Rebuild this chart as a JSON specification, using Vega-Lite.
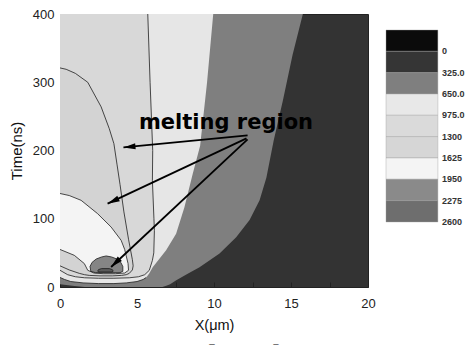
{
  "$schema": "https://vega.github.io/schema/vega-lite/v6.json",
  "background": "white",
  "padding": {"left": 8, "top": 7, "right": 0, "bottom": 0},
  "spacing": 9,
  "title": {"text": "Temperature distribution as a function of time", "orient": "bottom", "anchor": "start", "frame": "bounds", "font": "Liberation Serif", "fontSize": 36, "fontWeight": "normal", "color": "black", "offset": 10},
  "datasets": {
    "regions": [
      {"r": "A", "t": 0, "x": 1.6, "x2": 6.65},
      {"r": "A", "t": 2, "x": 0.8, "x2": 6.9},
      {"r": "A", "t": 4, "x": 0, "x2": 7.15},
      {"r": "A", "t": 10, "x": 0, "x2": 7.55},
      {"r": "A", "t": 20, "x": 0, "x2": 8.35},
      {"r": "A", "t": 29, "x": 0, "x2": 9.06},
      {"r": "A", "t": 49, "x": 0, "x2": 10.36},
      {"r": "A", "t": 73, "x": 0, "x2": 11.44},
      {"r": "A", "t": 98, "x": 0, "x2": 12.31},
      {"r": "A", "t": 127, "x": 0, "x2": 12.96},
      {"r": "A", "t": 160, "x": 0, "x2": 13.4},
      {"r": "A", "t": 215, "x": 0, "x2": 13.88},
      {"r": "A", "t": 273, "x": 0, "x2": 14.47},
      {"r": "A", "t": 340, "x": 0, "x2": 15.1},
      {"r": "A", "t": 400, "x": 0, "x2": 15.77},
      {"r": "B", "t": 5, "x": 2.5, "x2": 3.5},
      {"r": "B", "t": 6, "x": 1.5, "x2": 4.3},
      {"r": "B", "t": 8, "x": 0.7, "x2": 5.0},
      {"r": "B", "t": 11, "x": 0.3, "x2": 5.4},
      {"r": "B", "t": 14, "x": 0, "x2": 5.6},
      {"r": "B", "t": 20, "x": 0, "x2": 5.8},
      {"r": "B", "t": 29, "x": 0, "x2": 6.02},
      {"r": "B", "t": 54, "x": 0, "x2": 6.89},
      {"r": "B", "t": 78, "x": 0, "x2": 7.54},
      {"r": "B", "t": 117, "x": 0, "x2": 8.08},
      {"r": "B", "t": 166, "x": 0, "x2": 8.62},
      {"r": "B", "t": 207, "x": 0, "x2": 9.1},
      {"r": "B", "t": 300, "x": 0, "x2": 9.55},
      {"r": "B", "t": 400, "x": 0, "x2": 9.95},
      {"r": "C", "t": 12.8, "x": 2.5, "x2": 3.5},
      {"r": "C", "t": 13.5, "x": 1.6, "x2": 4.5},
      {"r": "C", "t": 15, "x": 1.0, "x2": 5.1},
      {"r": "C", "t": 18, "x": 0.5, "x2": 5.5},
      {"r": "C", "t": 24.5, "x": 0, "x2": 5.8},
      {"r": "C", "t": 39, "x": 0, "x2": 6.0},
      {"r": "C", "t": 50, "x": 0, "x2": 6.09},
      {"r": "C", "t": 83, "x": 0, "x2": 6.13},
      {"r": "C", "t": 100, "x": 0, "x2": 6.1},
      {"r": "C", "t": 156, "x": 0, "x2": 6.0},
      {"r": "C", "t": 200, "x": 0, "x2": 6.02},
      {"r": "C", "t": 300, "x": 0, "x2": 5.85},
      {"r": "C", "t": 400, "x": 0, "x2": 5.7},
      {"r": "D", "t": 16.3, "x": 2.6, "x2": 3.4},
      {"r": "D", "t": 17, "x": 1.9, "x2": 4.0},
      {"r": "D", "t": 18, "x": 1.6, "x2": 4.3},
      {"r": "D", "t": 20, "x": 1.25, "x2": 4.5},
      {"r": "D", "t": 25, "x": 0.6, "x2": 4.7},
      {"r": "D", "t": 31, "x": 0, "x2": 4.75},
      {"r": "D", "t": 40, "x": 0, "x2": 4.7},
      {"r": "D", "t": 70, "x": 0, "x2": 4.45},
      {"r": "D", "t": 110, "x": 0, "x2": 4.15},
      {"r": "D", "t": 150, "x": 0, "x2": 3.9},
      {"r": "D", "t": 180, "x": 0, "x2": 3.7},
      {"r": "D", "t": 210, "x": 0, "x2": 3.5},
      {"r": "D", "t": 232, "x": 0, "x2": 3.2},
      {"r": "D", "t": 264, "x": 0, "x2": 2.67},
      {"r": "D", "t": 300, "x": 0, "x2": 1.8},
      {"r": "D", "t": 313, "x": 0, "x2": 1.0},
      {"r": "D", "t": 319, "x": 0, "x2": 0.4},
      {"r": "D", "t": 321, "x": 0, "x2": 0},
      {"r": "E", "t": 19.5, "x": 2.8, "x2": 3.6},
      {"r": "E", "t": 20.5, "x": 2.2, "x2": 4.2},
      {"r": "E", "t": 24.5, "x": 1.8, "x2": 4.45},
      {"r": "E", "t": 34.3, "x": 1.58, "x2": 4.42},
      {"r": "E", "t": 46.4, "x": 0.93, "x2": 4.29},
      {"r": "E", "t": 55, "x": 0, "x2": 4.2},
      {"r": "E", "t": 68.4, "x": 0, "x2": 3.97},
      {"r": "E", "t": 87.8, "x": 0, "x2": 3.32},
      {"r": "E", "t": 107.5, "x": 0, "x2": 2.44},
      {"r": "E", "t": 127, "x": 0, "x2": 1.37},
      {"r": "E", "t": 134, "x": 0, "x2": 0.6},
      {"r": "E", "t": 137, "x": 0, "x2": 0},
      {"r": "F", "t": 21, "x": 2.3, "x2": 3.9},
      {"r": "F", "t": 23, "x": 2.0, "x2": 4.08},
      {"r": "F", "t": 30, "x": 1.95, "x2": 4.08},
      {"r": "F", "t": 36, "x": 2.08, "x2": 3.95},
      {"r": "F", "t": 41, "x": 2.35, "x2": 3.7},
      {"r": "F", "t": 44, "x": 2.7, "x2": 3.35},
      {"r": "F", "t": 45.5, "x": 3.0, "x2": 3.05},
      {"r": "G", "t": 22, "x": 2.5, "x2": 3.4},
      {"r": "G", "t": 23.5, "x": 2.45, "x2": 3.45},
      {"r": "G", "t": 25.5, "x": 2.5, "x2": 3.4},
      {"r": "G", "t": 27, "x": 2.7, "x2": 3.2}
    ],
    "lines": [
      {"id": "C", "i": 0, "x": 0, "t": 24.5}, {"id": "C", "i": 1, "x": 0.5, "t": 18}, {"id": "C", "i": 2, "x": 1.0, "t": 15}, {"id": "C", "i": 3, "x": 1.6, "t": 13.5}, {"id": "C", "i": 4, "x": 2.5, "t": 12.8}, {"id": "C", "i": 5, "x": 3.5, "t": 12.8}, {"id": "C", "i": 6, "x": 4.5, "t": 13.5}, {"id": "C", "i": 7, "x": 5.1, "t": 15}, {"id": "C", "i": 8, "x": 5.5, "t": 18}, {"id": "C", "i": 9, "x": 5.8, "t": 24.5}, {"id": "C", "i": 10, "x": 6.0, "t": 39}, {"id": "C", "i": 11, "x": 6.09, "t": 50}, {"id": "C", "i": 12, "x": 6.13, "t": 83}, {"id": "C", "i": 13, "x": 6.1, "t": 100}, {"id": "C", "i": 14, "x": 6.0, "t": 156}, {"id": "C", "i": 15, "x": 6.02, "t": 200}, {"id": "C", "i": 16, "x": 5.85, "t": 300}, {"id": "C", "i": 17, "x": 5.7, "t": 400},
      {"id": "D", "i": 0, "x": 0, "t": 31}, {"id": "D", "i": 1, "x": 0.6, "t": 25}, {"id": "D", "i": 2, "x": 1.25, "t": 20}, {"id": "D", "i": 3, "x": 1.6, "t": 18}, {"id": "D", "i": 4, "x": 1.9, "t": 17}, {"id": "D", "i": 5, "x": 2.6, "t": 16.3}, {"id": "D", "i": 6, "x": 3.4, "t": 16.3}, {"id": "D", "i": 7, "x": 4.0, "t": 17}, {"id": "D", "i": 8, "x": 4.3, "t": 18}, {"id": "D", "i": 9, "x": 4.5, "t": 20}, {"id": "D", "i": 10, "x": 4.7, "t": 25}, {"id": "D", "i": 11, "x": 4.75, "t": 31}, {"id": "D", "i": 12, "x": 4.7, "t": 40}, {"id": "D", "i": 13, "x": 4.45, "t": 70}, {"id": "D", "i": 14, "x": 4.15, "t": 110}, {"id": "D", "i": 15, "x": 3.9, "t": 150}, {"id": "D", "i": 16, "x": 3.7, "t": 180}, {"id": "D", "i": 17, "x": 3.5, "t": 210}, {"id": "D", "i": 18, "x": 3.2, "t": 232}, {"id": "D", "i": 19, "x": 2.67, "t": 264}, {"id": "D", "i": 20, "x": 1.8, "t": 300}, {"id": "D", "i": 21, "x": 1.0, "t": 313}, {"id": "D", "i": 22, "x": 0.4, "t": 319}, {"id": "D", "i": 23, "x": 0, "t": 321},
      {"id": "E", "i": 0, "x": 0, "t": 55}, {"id": "E", "i": 1, "x": 0.93, "t": 46.4}, {"id": "E", "i": 2, "x": 1.58, "t": 34.3}, {"id": "E", "i": 3, "x": 1.8, "t": 24.5}, {"id": "E", "i": 4, "x": 2.2, "t": 20.5}, {"id": "E", "i": 5, "x": 2.8, "t": 19.5}, {"id": "E", "i": 6, "x": 3.6, "t": 19.5}, {"id": "E", "i": 7, "x": 4.2, "t": 20.5}, {"id": "E", "i": 8, "x": 4.45, "t": 24.5}, {"id": "E", "i": 9, "x": 4.42, "t": 34.3}, {"id": "E", "i": 10, "x": 4.29, "t": 46.4}, {"id": "E", "i": 11, "x": 4.2, "t": 55}, {"id": "E", "i": 12, "x": 3.97, "t": 68.4}, {"id": "E", "i": 13, "x": 3.32, "t": 87.8}, {"id": "E", "i": 14, "x": 2.44, "t": 107.5}, {"id": "E", "i": 15, "x": 1.37, "t": 127}, {"id": "E", "i": 16, "x": 0.6, "t": 134}, {"id": "E", "i": 17, "x": 0, "t": 137},
      {"id": "Bb", "i": 0, "x": 0, "t": 14}, {"id": "Bb", "i": 1, "x": 0.3, "t": 11}, {"id": "Bb", "i": 2, "x": 0.7, "t": 8}, {"id": "Bb", "i": 3, "x": 1.5, "t": 6}, {"id": "Bb", "i": 4, "x": 2.5, "t": 5}, {"id": "Bb", "i": 5, "x": 3.5, "t": 5}, {"id": "Bb", "i": 6, "x": 4.3, "t": 6}, {"id": "Bb", "i": 7, "x": 5.0, "t": 8}, {"id": "Bb", "i": 8, "x": 5.4, "t": 11}, {"id": "Bb", "i": 9, "x": 5.6, "t": 14},
      {"id": "F", "i": 0, "x": 3.0, "t": 45.5}, {"id": "F", "i": 1, "x": 2.7, "t": 44}, {"id": "F", "i": 2, "x": 2.35, "t": 41}, {"id": "F", "i": 3, "x": 2.08, "t": 36}, {"id": "F", "i": 4, "x": 1.95, "t": 30}, {"id": "F", "i": 5, "x": 2.0, "t": 23}, {"id": "F", "i": 6, "x": 2.3, "t": 21}, {"id": "F", "i": 7, "x": 3.9, "t": 21}, {"id": "F", "i": 8, "x": 4.08, "t": 23}, {"id": "F", "i": 9, "x": 4.08, "t": 30}, {"id": "F", "i": 10, "x": 3.95, "t": 36}, {"id": "F", "i": 11, "x": 3.7, "t": 41}, {"id": "F", "i": 12, "x": 3.35, "t": 44}, {"id": "F", "i": 13, "x": 3.0, "t": 45.5},
      {"id": "G", "i": 0, "x": 2.5, "t": 22}, {"id": "G", "i": 1, "x": 2.45, "t": 23.5}, {"id": "G", "i": 2, "x": 2.5, "t": 25.5}, {"id": "G", "i": 3, "x": 2.7, "t": 27}, {"id": "G", "i": 4, "x": 3.2, "t": 27}, {"id": "G", "i": 5, "x": 3.4, "t": 25.5}, {"id": "G", "i": 6, "x": 3.45, "t": 23.5}, {"id": "G", "i": 7, "x": 3.4, "t": 22}, {"id": "G", "i": 8, "x": 2.5, "t": 22}
    ],
    "arrows": [
      {"id": 1, "x": 12.18, "t": 222.1}, {"id": 1, "x": 4.12, "t": 204.5},
      {"id": 2, "x": 12.11, "t": 217.7}, {"id": 2, "x": 3.09, "t": 122.1},
      {"id": 3, "x": 12.18, "t": 216.3}, {"id": 3, "x": 3.32, "t": 29.3}
    ],
    "heads": [
      {"id": 1, "x": 4.51, "t": 205.4},
      {"id": 2, "x": 3.45, "t": 125.9},
      {"id": 3, "x": 3.6, "t": 35.3}
    ],
    "labels": [
      {"x": 10.78, "t": 231, "text": "melting region"}
    ],
    "legend": [
      {"box": 0, "lo": 0, "hi": 1, "label": "0"},
      {"box": 1, "lo": 1, "hi": 2, "label": "325.0"},
      {"box": 2, "lo": 2, "hi": 3, "label": "650.0"},
      {"box": 3, "lo": 3, "hi": 4, "label": "975.0"},
      {"box": 4, "lo": 4, "hi": 5, "label": "1300"},
      {"box": 5, "lo": 5, "hi": 6, "label": "1625"},
      {"box": 6, "lo": 6, "hi": 7, "label": "1950"},
      {"box": 7, "lo": 7, "hi": 8, "label": "2275"},
      {"box": 8, "lo": 8, "hi": 9, "label": "2600"}
    ]
  },
  "hconcat": [
    {
      "width": 308,
      "height": 273,
      "view": {"fill": "#333333", "stroke": "#222222", "strokeWidth": 1},
      "encoding": {
        "x": {"field": "x", "type": "quantitative", "title": "X(μm)",
          "scale": {"domain": [0, 20], "nice": false, "zero": false},
          "axis": {"values": [0, 2.5, 5, 7.5, 10, 12.5, 15, 17.5, 20], "labelExpr": "datum.value % 5 === 0 ? datum.label : ''", "tickSize": -5, "labelPadding": 15, "labelFlush": false, "labelOverlap": false, "grid": false, "domain": false, "tickColor": "#222", "labelColor": "#222", "labelFontSize": 13, "titleFontSize": 14.5, "titleFontWeight": "normal", "titleColor": "#111", "titlePadding": 8}},
        "y": {"field": "t", "type": "quantitative", "title": "Time(ns)",
          "scale": {"domain": [0, 400], "nice": false, "zero": false},
          "axis": {"values": [0, 50, 100, 150, 200, 250, 300, 350, 400], "labelExpr": "datum.value % 100 === 0 ? datum.label : ''", "tickSize": -5, "labelPadding": 11, "labelFlush": false, "labelOverlap": false, "grid": false, "domain": false, "tickColor": "#222", "labelColor": "#222", "labelFontSize": 13, "titleFontSize": 15, "titleFontWeight": "normal", "titleColor": "#111", "titlePadding": 8}}
      },
      "layer": [
        {"data": {"name": "regions"}, "transform": [{"filter": "datum.r === 'A'"}], "mark": {"type": "area", "orient": "horizontal", "color": "#7f7f7f", "clip": true}, "encoding": {"x2": {"field": "x2"}}},
        {"data": {"name": "regions"}, "transform": [{"filter": "datum.r === 'B'"}], "mark": {"type": "area", "orient": "horizontal", "color": "#e6e6e6", "clip": true}, "encoding": {"x2": {"field": "x2"}}},
        {"data": {"name": "regions"}, "transform": [{"filter": "datum.r === 'C'"}], "mark": {"type": "area", "orient": "horizontal", "color": "#d8d8d8", "clip": true}, "encoding": {"x2": {"field": "x2"}}},
        {"data": {"name": "regions"}, "transform": [{"filter": "datum.r === 'D'"}], "mark": {"type": "area", "orient": "horizontal", "color": "#d3d3d3", "clip": true}, "encoding": {"x2": {"field": "x2"}}},
        {"data": {"name": "regions"}, "transform": [{"filter": "datum.r === 'E'"}], "mark": {"type": "area", "orient": "horizontal", "color": "#f4f4f4", "clip": true}, "encoding": {"x2": {"field": "x2"}}},
        {"data": {"name": "regions"}, "transform": [{"filter": "datum.r === 'F'"}], "mark": {"type": "area", "orient": "horizontal", "color": "#858585", "clip": true}, "encoding": {"x2": {"field": "x2"}}},
        {"data": {"name": "regions"}, "transform": [{"filter": "datum.r === 'G'"}], "mark": {"type": "area", "orient": "horizontal", "color": "#5a5a5a", "clip": true}, "encoding": {"x2": {"field": "x2"}}},
        {"data": {"name": "lines"}, "mark": {"type": "line", "color": "#1e1e1e", "strokeWidth": 0.8, "clip": true}, "encoding": {"detail": {"field": "id"}, "order": {"field": "i"}}},
        {"data": {"name": "arrows"}, "mark": {"type": "line", "color": "black", "strokeWidth": 1.8}, "encoding": {"detail": {"field": "id"}}},
        {"data": {"name": "heads"}, "transform": [{"filter": "datum.id === 1"}], "mark": {"type": "point", "shape": "M0,-1L0.5,1L-0.5,1Z", "filled": true, "color": "black", "opacity": 1, "size": 144, "angle": 264.5}},
        {"data": {"name": "heads"}, "transform": [{"filter": "datum.id === 2"}], "mark": {"type": "point", "shape": "M0,-1L0.5,1L-0.5,1Z", "filled": true, "color": "black", "opacity": 1, "size": 144, "angle": 244.8}},
        {"data": {"name": "heads"}, "transform": [{"filter": "datum.id === 3"}], "mark": {"type": "point", "shape": "M0,-1L0.5,1L-0.5,1Z", "filled": true, "color": "black", "opacity": 1, "size": 144, "angle": 226.9}},
        {"data": {"name": "labels"}, "mark": {"type": "text", "font": "DejaVu Sans", "fontSize": 21, "fontWeight": "bold", "color": "black", "align": "center", "baseline": "alphabetic"}, "encoding": {"text": {"field": "text"}}}
      ]
    },
    {
      "width": 83,
      "height": 273,
      "view": {"stroke": null},
      "data": {"name": "legend"},
      "encoding": {
        "x": {"datum": 0, "type": "quantitative", "scale": {"domain": [0, 1.6], "nice": false, "zero": false}, "axis": null},
        "y": {"field": "lo", "type": "quantitative", "scale": {"domain": [-0.75, 12.05], "reverse": true, "nice": false, "zero": false}, "axis": null}
      },
      "layer": [
        {"mark": {"type": "rect", "stroke": "#a0a0a0", "strokeWidth": 0.4}, "encoding": {"x2": {"datum": 1}, "y2": {"field": "hi"}, "color": {"field": "box", "type": "ordinal", "legend": null, "scale": {"domain": [0, 1, 2, 3, 4, 5, 6, 7, 8], "range": ["#0b0b0b", "#353535", "#7f7f7f", "#e8e8e8", "#dadada", "#d6d6d6", "#f4f4f4", "#8a8a8a", "#6e6e6e"]}}}},
        {"mark": {"type": "text", "align": "left", "baseline": "middle", "fontSize": 9, "fontWeight": "bold", "color": "#333", "font": "Liberation Sans"}, "encoding": {"x": {"datum": 1.08, "type": "quantitative"}, "y": {"field": "hi", "type": "quantitative"}, "text": {"field": "label"}}}
      ]
    }
  ],
  "config": {"font": "Liberation Sans", "view": {"stroke": null}}
}
